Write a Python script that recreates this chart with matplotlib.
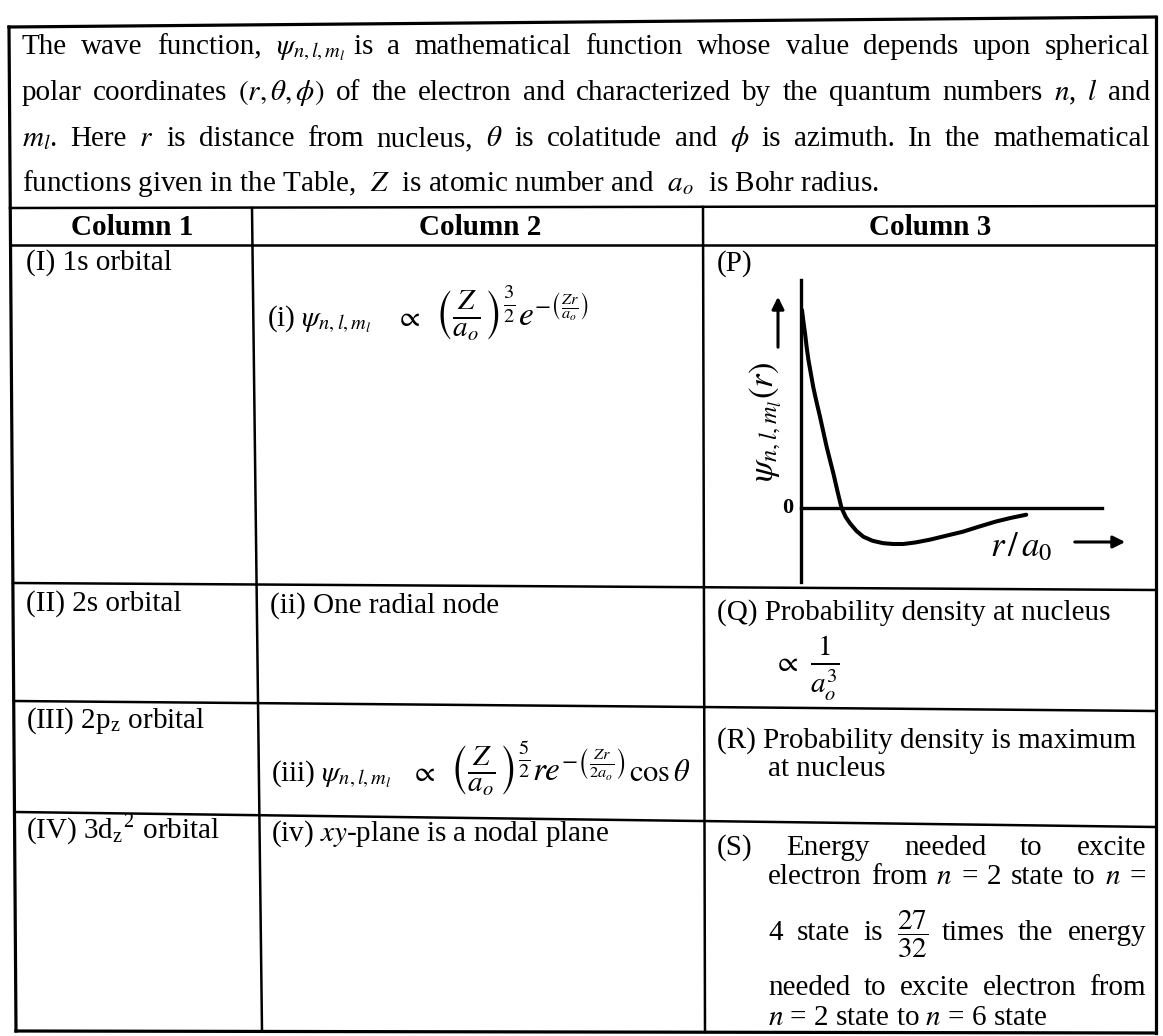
import numpy as np
import matplotlib.pyplot as plt

plt.rcParams['font.family'] = ['Liberation Serif', 'DejaVu Serif']
plt.rcParams['mathtext.fontset'] = 'stix'

W, H = 1163, 1036
FS = 21

# curve of panel (P): r/a0 and psi (arbitrary units)
r_vals = [0.05, 0.12, 0.2, 0.28, 0.36, 0.48, 0.6, 0.76, 0.93, 1.09, 1.25, 1.42, 1.58, 1.78,
          1.98, 2.18, 2.39, 2.7, 3.04, 3.5, 4.02, 4.5, 5.0, 5.6, 6.3, 7.1, 7.9, 8.7, 9.5,
          10.25, 11.0]
psi_vals = [1.0, 0.94, 0.88, 0.81, 0.75, 0.68, 0.61, 0.535, 0.46, 0.385, 0.31, 0.24, 0.175,
            0.085, 0.0, -0.045, -0.077, -0.115, -0.145, -0.166, -0.178, -0.182, -0.182,
            -0.174, -0.16, -0.14, -0.12, -0.094, -0.069, -0.05, -0.034]

# intro paragraph, word by word (first three lines are justified)
intro_lines = [
    ["The", "wave", "function,", r"$\psi_{n,l,m_l}$ is", "a", "mathematical", "function",
     "whose", "value", "depends", "upon", "spherical"],
    ["polar", "coordinates", r"$(r,\theta,\phi)$", "of", "the", "electron", "and",
     "characterized", "by", "the", "quantum", "numbers", r"$n$,", r"$l$", "and"],
    [r"$m_l$.", "Here", r"$r$", "is", "distance", "from", "nucleus,", r"$\theta$", "is",
     "colatitude", "and", r"$\phi$", "is", "azimuth.", "In", "the", "mathematical"],
]
intro_last = r"functions given in the Table,  $Z$  is atomic number and  $a_o$  is Bohr radius."

headers = ["Column 1", "Column 2", "Column 3"]
col1 = ["(I) 1s orbital", "(II) 2s orbital", r"(III) 2p$_\mathregular{z}$ orbital",
        r"(IV) 3d$_\mathregular{z}{}^\mathregular{2}$ orbital"]
eq1 = [r"(i) $\psi_{n,l,m_l}$", r"$\propto$",
       r"$\left(\frac{Z}{a_o}\right)^{\frac{3}{2}}$", r"$e^{-\left(\frac{Zr}{a_o}\right)}$"]
eq3 = [r"(iii) $\psi_{n,l,m_l}$", r"$\propto$",
       r"$\left(\frac{Z}{a_o}\right)^{\frac{5}{2}}$", r"$re^{-\left(\frac{Zr}{2a_o}\right)}$",
       r"$\cos\theta$"]
col2_plain = ["(ii) One radial node", r"(iv) $xy$-plane is a nodal plane"]
q_text = ["(Q) Probability density at nucleus", r"$\propto$", r"$\frac{1}{a_o^3}$"]
r_text = ["(R) Probability density is maximum", "at nucleus"]
s_lines = [
    ["(S)", "Energy", "needed", "to", "excite"],
    ["electron", "from", r"$n$", "=", "2", "state", "to", r"$n$", "="],
    ["4", "state", "is", r"$\dfrac{27}{32}$", "times", "the", "energy"],
    ["needed", "to", "excite", "electron", "from"],
]
s_last = r"$n$ = 2 state to $n$ = 6 state"

fig = plt.figure(figsize=(W / 100, H / 100), dpi=100)
ax = fig.add_axes([0, 0, 1, 1])
ax.set_xlim(0, W)
ax.set_ylim(H, 0)
ax.axis('off')
renderer = fig.canvas.get_renderer()


def justify(words, y, x0, x1, size=FS):
    objs = [ax.text(0, y, w, fontsize=size, va='baseline', ha='left') for w in words]
    widths = [o.get_window_extent(renderer).width for o in objs]
    gap = (x1 - x0 - sum(widths)) / (len(words) - 1)
    x = x0
    for o, w in zip(objs, widths):
        o.set_x(x)
        x += w + gap


def row(pieces, sizes, gaps, x, y):
    # pieces of one formula laid out one after the other on a shared baseline
    for p, s, g in zip(pieces, sizes, gaps):
        x += g
        t = ax.text(x, y, p, fontsize=s, va='baseline', ha='left')
        x += t.get_window_extent(renderer).width


def line(x0, y0, x1, y1, lw=1.8):
    ax.plot([x0, x1], [y0, y1], color='black', lw=lw, solid_capstyle='projecting')


# table frame
R, B = 1156, 1031
line(9, 27, R, 17, 2.3)
line(16, B, R, B + 2, 2.3)
line(9, 27, 16, B, 2.3)
line(R, 17, R, B + 2, 2.3)
line(10, 208, R, 206)
line(10, 245, R, 245)
line(13, 583, R, 590)
line(14, 701, R, 711)
line(15, 812, R, 827)
line(252, 208, 262, B)
line(703, 207, 705, B + 1)

# intro paragraph
for words, yb in zip(intro_lines, [54, 100, 146]):
    justify(words, yb, 22, 1150)
ax.text(22, 191, intro_last, fontsize=FS, va='baseline', ha='left')

# header row
for h, xc in zip(headers, [132, 480, 930]):
    ax.text(xc, 235, h, fontsize=FS, fontweight='bold', ha='center', va='baseline')

# column 1
for t, yb in zip(col1, [270, 611, 728, 838]):
    ax.text(26, yb, t, fontsize=FS, va='baseline', ha='left')

# column 2
row(eq1, [FS, FS, 30, 24], [0, 24, 14, 2], 267, 326)
row(eq3, [FS, FS, 30, 24, FS + 1], [0, 18, 14, 2, 3], 271, 781)
ax.text(270, 613, col2_plain[0], fontsize=FS, va='baseline', ha='left')
ax.text(271, 841, col2_plain[1], fontsize=FS, va='baseline', ha='left')

# column 3
ax.text(717, 271, "(P)", fontsize=FS, va='baseline', ha='left')
ax.text(717, 620, q_text[0], fontsize=FS, va='baseline', ha='left')
row(q_text[1:], [FS, 30], [0, 12], 773, 671)
ax.text(717, 748, r_text[0], fontsize=FS, va='baseline', ha='left')
ax.text(768, 776, r_text[1], fontsize=FS, va='baseline', ha='left')
justify(s_lines[0], 855, 717, 1146)
justify(s_lines[1], 884, 768, 1146)
justify(s_lines[2], 940, 768, 1146)
justify(s_lines[3], 995, 768, 1146)
ax.text(768, 1025, s_last, fontsize=FS, va='baseline', ha='left')

# panel (P): wave function sketch
g = fig.add_axes([801 / W, 1 - 582 / H, 301 / W, 302 / H])
g.plot(r_vals, psi_vals, color='black', lw=2.9, solid_capstyle='round')
g.set_xlim(0, 14.7)
g.set_ylim(-0.374, 1.152)
g.patch.set_alpha(0)
for s in ['top', 'right']:
    g.spines[s].set_visible(False)
g.spines['bottom'].set_position(('data', 0))
g.spines['left'].set_linewidth(2.4)
g.spines['bottom'].set_linewidth(2.4)
g.set_xticks([])
g.set_yticks([])

ax.text(766, 422, r"$\psi_{n,l,m_l}(r)$", fontsize=25, rotation=90, ha='center', va='center')
ax.annotate('', xy=(778, 294), xytext=(778, 350),
            arrowprops=dict(arrowstyle='-|>', lw=2.2, color='black', mutation_scale=18))
ax.text(788, 508, "0", fontsize=16, fontweight='bold', ha='center', va='center')
ax.text(990, 548, r"$r\,/\,a_0$", fontsize=25, ha='left', va='center')
ax.annotate('', xy=(1128, 542), xytext=(1072, 542),
            arrowprops=dict(arrowstyle='-|>', lw=2.2, color='black', mutation_scale=18))

fig.savefig("out.png", dpi=100)
